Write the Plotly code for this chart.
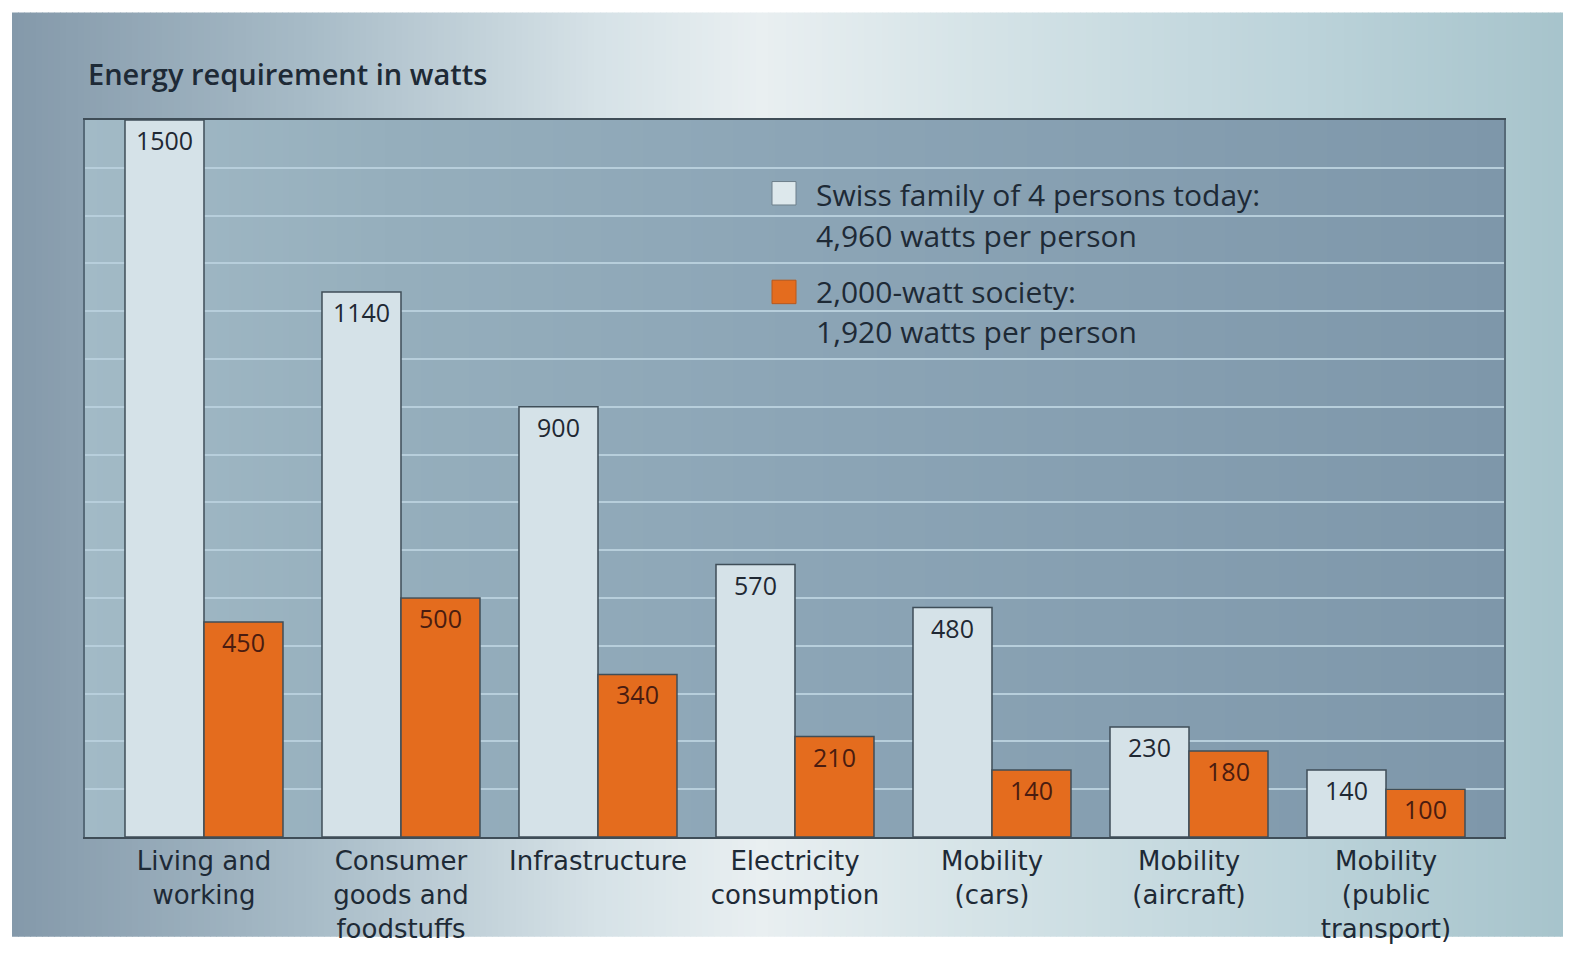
import plotly.graph_objects as go

# ---------------- data ----------------
categories = ["Living and<br>working", "Consumer<br>goods and<br>foodstuffs", "Infrastructure",
              "Electricity<br>consumption", "Mobility<br>(cars)", "Mobility<br>(aircraft)",
              "Mobility<br>(public<br>transport)"]
swiss_today = [1500, 1140, 900, 570, 480, 230, 140]
watt_society = [450, 500, 340, 210, 140, 180, 100]
legend_lines_today = ["Swiss family of 4 persons today:", "4,960 watts per person"]
legend_lines_2000 = ["2,000-watt society:", "1,920 watts per person"]
title_text = "Energy requirement in watts"

# ---------------- geometry (reference pixel coords; page keeps its 8px body margin) ----------------
OFF = 8
W, H = 1571 - 2 * OFF, 964 - 2 * OFF      # figure size so the page is exactly 1571x964
L, R, T, B = 85, 1504, 120, 854           # plot area in reference coords
PW, PH = R - L, B - T

def px(x):
    return (x - L) / PW

def py(y):
    return (B - y) / PH

def hex2rgb(h):
    h = h.lstrip("#")
    return tuple(int(h[i:i + 2], 16) for i in (0, 2, 4))

def interp(stops, x):
    for (x0, c0), (x1, c1) in zip(stops, stops[1:]):
        if x0 <= x <= x1:
            t = (x - x0) / (x1 - x0) if x1 > x0 else 0
            a, b = hex2rgb(c0), hex2rgb(c1)
            return "rgb(%d,%d,%d)" % tuple(round(a[i] + (b[i] - a[i]) * t) for i in range(3))
    return stops[-1][1]

FONT = "'Open Sans', Roboto, sans-serif"
TICKFONT = "'DejaVu Sans', 'Open Sans', sans-serif"
TXT = "#1e2a36"
LIGHT = "#d5e2e8"
ORANGE = "#e46c1e"

idx = list(range(len(categories)))
fig = go.Figure()
fig.add_trace(go.Bar(
    x=idx, y=swiss_today, width=0.401, offset=-0.401,
    marker=dict(color=LIGHT, line=dict(color="#3f4e58", width=1.5)),
    text=swiss_today, textposition="inside", insidetextanchor="end", textangle=0,
    insidetextfont=dict(family=FONT, size=25, color="#1f2833"),
    showlegend=False, hoverinfo="skip"))
fig.add_trace(go.Bar(
    x=idx, y=watt_society, width=0.401, offset=0,
    marker=dict(color=ORANGE, line=dict(color="#3f4e58", width=1.5)),
    text=watt_society, textposition="inside", insidetextanchor="end", textangle=0,
    insidetextfont=dict(family=FONT, size=25, color="#4a1c10"),
    showlegend=False, hoverinfo="skip"))

shapes = []
# outer background gradient (kept inside the figure: ref x 12..1563, y 10..956)
XR, YB = 1571 - OFF, 964 - OFF
outer_stops = [(12, "#8499aa"), (300, "#a6bac6"), (600, "#d6e2e7"), (760, "#e9eff1"),
               (1000, "#d3e2e6"), (1300, "#bcd3da"), (1571, "#a6c3cb")]
step = 6
x = 12
while x < XR:
    x2 = min(x + step, XR)
    shapes.append(dict(type="rect", xref="paper", yref="paper", x0=px(x),
                       x1=min(px(x2) + 0.0005, px(XR)),
                       y0=py(YB), y1=py(10), fillcolor=interp(outer_stops, (x + x2) / 2),
                       line=dict(width=0), layer="below"))
    x = x2
# plot area gradient
plot_stops = [(85, "#a2bac6"), (400, "#95aebc"), (800, "#8ca5b6"), (1504, "#7e97aa")]
x = L
while x < R:
    x2 = min(x + step, R)
    shapes.append(dict(type="rect", xref="paper", yref="paper", x0=px(x), x1=min(px(x2) + 0.0005, 1),
                       y0=0, y1=1, fillcolor=interp(plot_stops, (x + x2) / 2),
                       line=dict(width=0), layer="below"))
    x = x2
# legend squares
shapes.append(dict(type="rect", xref="paper", yref="paper", x0=px(772), x1=px(796),
                   y0=py(207), y1=py(183), fillcolor="#dde8ec",
                   line=dict(color="#6d7f8b", width=1), layer="above"))
shapes.append(dict(type="rect", xref="paper", yref="paper", x0=px(772), x1=px(796),
                   y0=py(308), y1=py(284), fillcolor=ORANGE,
                   line=dict(color="#b8581c", width=1), layer="above"))

annotations = [dict(text=title_text, xref="paper", yref="paper", x=px(86), y=py(72),
                    xanchor="left", yanchor="middle", showarrow=False,
                    font=dict(family=FONT, size=29, color=TXT, weight=600))]
for line, yy in zip(legend_lines_today + legend_lines_2000, [196, 238, 296, 337]):
    annotations.append(dict(text=line, xref="paper", yref="paper", x=px(814), y=py(yy),
                            xanchor="left", yanchor="middle", showarrow=False,
                            font=dict(family=FONT, size=30, color=TXT)))

fig.update_layout(
    width=W, height=H, autosize=False,
    margin=dict(l=L - OFF, r=W - (R - OFF), t=T - OFF, b=H - (B - OFF), pad=0),
    paper_bgcolor="white", plot_bgcolor="rgba(0,0,0,0)",
    barmode="overlay",
    shapes=shapes, annotations=annotations,
    xaxis=dict(range=[-0.604, 6.599], tickmode="array", tickvals=idx, ticktext=categories,
               tickfont=dict(family=TICKFONT, size=26, color=TXT), ticks="",
               showgrid=False, zeroline=False,
               showline=True, linecolor="#3f4d57", linewidth=2, mirror=True),
    yaxis=dict(range=[0, 1500], dtick=100, showticklabels=False, ticks="",
               showgrid=True, gridcolor="#b7cedb", gridwidth=2, zeroline=False,
               showline=True, linecolor="#566a78", linewidth=2, mirror=True),
)

fig.write_html("out.html", config={"responsive": False, "displayModeBar": False})
